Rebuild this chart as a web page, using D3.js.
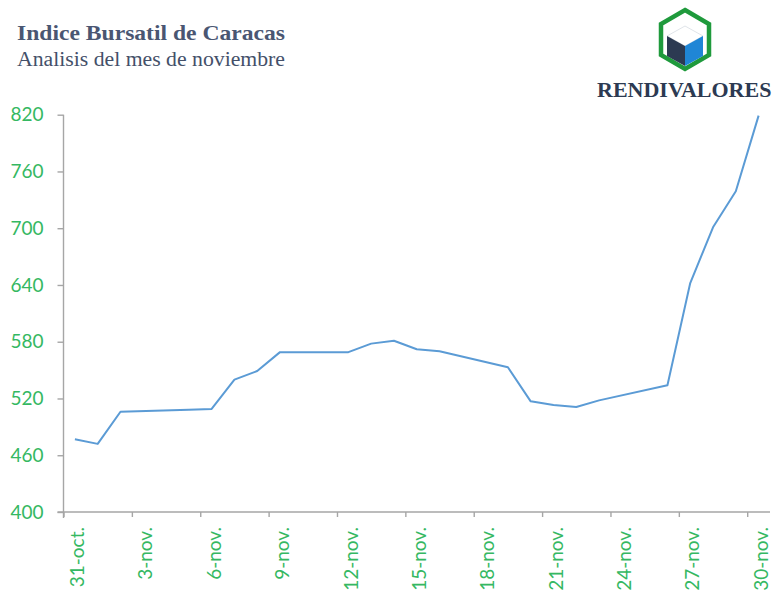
<!DOCTYPE html>
<html>
<head>
<meta charset="utf-8">
<script src="https://cdn.jsdelivr.net/npm/d3@7/dist/d3.min.js"></script>
<style>
  html, body { margin: 0; padding: 0; background: #ffffff; }
  svg { display: block; }
</style>
</head>
<body>
<svg id="chart" width="774" height="593"></svg>
<script>
// ---- Data ----
const dates = ["2018-10-31","2018-11-01","2018-11-02","2018-11-05","2018-11-06","2018-11-07",
  "2018-11-08","2018-11-09","2018-11-12","2018-11-13","2018-11-14","2018-11-15","2018-11-16",
  "2018-11-19","2018-11-20","2018-11-21","2018-11-22","2018-11-23","2018-11-26","2018-11-27",
  "2018-11-28","2018-11-29","2018-11-30"];
const values = [477, 472, 506, 508, 509, 540, 549, 569, 569, 578, 581, 572, 570,
  553, 517, 513, 511, 518, 534, 642, 701, 739, 819];
const yTicks = [400, 460, 520, 580, 640, 700, 760, 820];
const xTickDates = ["2018-10-31","2018-11-03","2018-11-06","2018-11-09","2018-11-12","2018-11-15",
  "2018-11-18","2018-11-21","2018-11-24","2018-11-27","2018-11-30"];
const xTickLabels = ["31-oct.","3-nov.","6-nov.","9-nov.","12-nov.","15-nov.",
  "18-nov.","21-nov.","24-nov.","27-nov.","30-nov."];
const title = "Indice Bursatil de Caracas";
const subtitle = "Analisis del mes de noviembre";
const brand = "RENDIVALORES";

(function () {
// ---- Layout ----
const svg = d3.select("#chart");
const pLeft = 63.5, pRight = 770, pTop = 114.7, pBottom = 512;
const green = "#35b862";
const axisGray = "#a6a6a6";
const DAY = 86400000;

const parse = s => new Date(s + "T00:00:00Z");
const x = d3.scaleUtc()
  .domain([parse("2018-10-31"), parse("2018-12-01")])
  .range([pLeft, pRight]);
const y = d3.scaleLinear().domain([400, 820]).range([pBottom, pTop]);
const halfDay = (x(new Date(parse("2018-10-31").getTime() + DAY)) - x(parse("2018-10-31"))) / 2;

// ---- Y axis ----
const yAxis = svg.append("g")
  .attr("transform", `translate(${pLeft},0)`)
  .call(d3.axisLeft(y).tickValues(yTicks).tickSize(6).tickPadding(14).tickFormat(d3.format("d")));
yAxis.select(".domain").attr("stroke", axisGray).attr("stroke-width", 1.4)
  .attr("d", `M0,${pTop}V${pBottom + 6}`);
yAxis.selectAll(".tick line").attr("stroke", axisGray).attr("stroke-width", 1.4);
yAxis.selectAll(".tick text")
  .attr("fill", green).attr("font-family", "Lato, 'Noto Sans', sans-serif").attr("font-size", 19);

// ---- X axis ----
const xAxis = svg.append("g")
  .attr("transform", `translate(0,${pBottom})`)
  .call(d3.axisBottom(x).tickValues(xTickDates.map(parse)).tickSize(5)
    .tickFormat((d, i) => xTickLabels[i]));
xAxis.select(".domain").attr("stroke", axisGray).attr("stroke-width", 1.4)
  .attr("d", `M${pLeft - 6},0H${pRight}`);
xAxis.selectAll(".tick line").attr("stroke", axisGray).attr("stroke-width", 1.4);
xAxis.selectAll(".tick text")
  .attr("fill", green).attr("font-family", "Lato, 'Noto Sans', sans-serif").attr("font-size", 19)
  .attr("text-anchor", "end")
  .attr("y", 0).attr("dy", "0.35em")
  .attr("transform", `translate(${halfDay + 2},15) rotate(-90)`);

// ---- Line ----
const pts = dates.map((d, i) => ({ date: new Date(parse(d).getTime() + DAY / 2), v: values[i] }));
svg.append("path")
  .datum(pts)
  .attr("fill", "none")
  .attr("stroke", "#5b9bd5")
  .attr("stroke-width", 2)
  .attr("stroke-linejoin", "round")
  .attr("d", d3.line().x(d => x(d.date)).y(d => y(d.v)));

// ---- Titles ----
svg.append("text").attr("x", 17).attr("y", 40)
  .attr("font-family", "'Liberation Serif', 'DejaVu Serif', serif").attr("font-weight", "bold")
  .attr("font-size", 22).attr("fill", "#4a5672")
  .attr("textLength", 268).attr("lengthAdjust", "spacingAndGlyphs").text(title);
svg.append("text").attr("x", 17).attr("y", 66)
  .attr("font-family", "'Liberation Serif', 'DejaVu Serif', serif")
  .attr("font-size", 20).attr("fill", "#445069")
  .attr("textLength", 268).attr("lengthAdjust", "spacingAndGlyphs").text(subtitle);

// ---- Logo ----
const logo = svg.append("g");
const cx = 685;
const hex = [[cx, 10], [cx + 24, 24], [cx + 24, 55], [cx, 69], [cx - 24, 55], [cx - 24, 24]];
logo.append("polygon").attr("points", hex.map(p => p.join(",")).join(" "))
  .attr("fill", "#ffffff").attr("stroke", "#1f9a3c").attr("stroke-width", 4.5)
  .attr("stroke-linejoin", "miter");
logo.append("polygon").attr("points", [[cx, 26], [cx + 18, 36], [cx, 46], [cx - 18, 36]].map(p => p.join(",")).join(" "))
  .attr("fill", "#ffffff").attr("stroke", "#d8dde3").attr("stroke-width", 0.8);
logo.append("polygon").attr("points", [[cx - 18, 36], [cx, 46], [cx, 66], [cx - 18, 56]].map(p => p.join(",")).join(" "))
  .attr("fill", "#2c3a52");
logo.append("polygon").attr("points", [[cx + 18, 36], [cx, 46], [cx, 66], [cx + 18, 56]].map(p => p.join(",")).join(" "))
  .attr("fill", "#1f86d6");
svg.append("text").attr("x", 597).attr("y", 97)
  .attr("font-family", "'Liberation Serif', 'DejaVu Serif', serif").attr("font-weight", "bold")
  .attr("font-size", 22).attr("fill", "#2c3a52").text(brand);
})();
</script>
</body>
</html>
